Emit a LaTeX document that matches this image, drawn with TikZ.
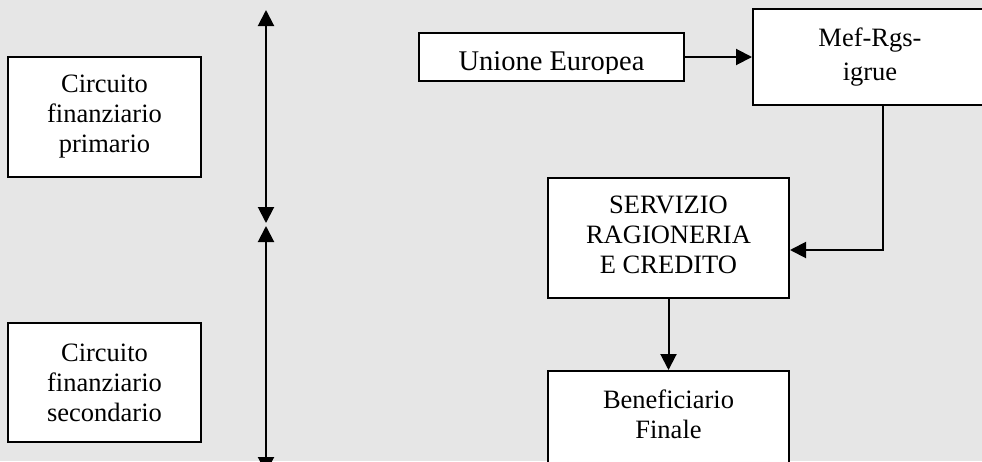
\documentclass[tikz,border=0pt]{standalone}
\usepackage{fontspec}
\setmainfont{Liberation Serif}
\usetikzlibrary{arrows.meta}
\definecolor{pagebg}{RGB}{230,230,230}
\newcommand\boxfont{\fontsize{26.5}{30}\selectfont}
\tikzset{
  box/.style={draw, fill=white, line width=2pt, inner sep=0pt, align=center, font=\boxfont},
  txt/.style={inner sep=0pt, align=center, font=\boxfont},
  arr/.style={line width=2pt, -{Triangle[length=16pt,width=16pt]}},
  dbl/.style={line width=2pt, {Triangle[length=16pt,width=16pt]}-{Triangle[length=16pt,width=16pt]}}
}
\begin{document}
\begin{tikzpicture}[x=1pt,y=-1pt]
%background
\useasboundingbox[fill=pagebg] (0,0) rectangle (982,461);

%left boxes
\node[box, minimum width=193pt, minimum height=120pt] (primario) at (104.5,117) {Circuito\\finanziario\\primario};
\node[box, minimum width=193pt, minimum height=119pt] (secondario) at (104.5,382.5) {Circuito\\finanziario\\secondario};

%vertical arrows
\coordinate (ptop) at (266,10);
\coordinate (pmid) at (266,223);
\coordinate (smid) at (266,226);
\coordinate (sbot) at (266,473);
\draw[dbl] (ptop) -- (pmid);
\draw[dbl] (smid) -- (sbot);

%right boxes
\node[box, minimum width=265pt, minimum height=48pt] (ue) at (551.5,57) {};
\node[box, minimum width=234pt, minimum height=96pt, font=\fontsize{26.5}{34}\selectfont] (mef) at (870,57) {Mef-Rgs-\\igrue};
\node[box, minimum width=241pt, minimum height=120pt] (serv) at (668.5,238) {};
\node[box, minimum width=241pt, minimum height=119pt] (ben) at (668.5,430.5) {};

%box text
\begin{scope}
\clip (ue.north west) rectangle ([yshift=9pt]ue.south east);
\node[txt, anchor=base, font=\fontsize{28.5}{30}\selectfont] (uetext) at (551.5,70) {Unione Europea};
\end{scope}
\node[txt] (servtext) at (668.5,234.5) {SERVIZIO\\RAGIONERIA\\E CREDITO};
\node[txt] (bentext) at (668.5,414) {Beneficiario\\Finale};

%flow arrows
\coordinate (turn) at (883,250);
\draw[arr] (ue.east) -- (mef.west);
\draw[arr] (turn |- mef.south) -- (turn) -- (turn -| serv.east);
\draw[arr] (serv.south) -- (ben.north);

\end{tikzpicture}
\end{document}
